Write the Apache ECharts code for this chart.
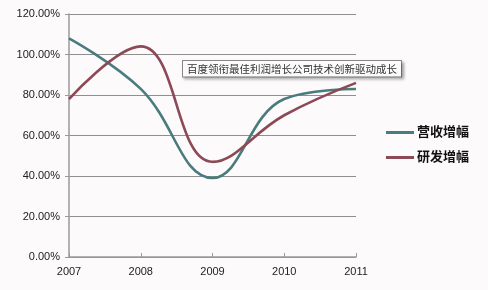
<!DOCTYPE html>
<html><head><meta charset="utf-8">
<script src="https://cdn.jsdelivr.net/npm/echarts@6/dist/echarts.min.js"></script>
<style>html,body{margin:0;padding:0;background:#fdfafc}#c{width:488px;height:290px}</style>
</head><body><div id="c"></div>
<script>
var categories = ['2007', '2008', '2009', '2010', '2011'];
var revenueGrowth = [108, 83, 39, 78, 83];
var rdGrowth = [78, 104, 47, 70, 86];
var seriesNames = ['营收增幅', '研发增幅'];
var yTicks = [0, 20, 40, 60, 80, 100, 120];
var annotation = '百度领衔最佳利润增长公司技术创新驱动成长';

var chart = echarts.init(document.getElementById('c'), null, {renderer: 'canvas'});
var font = '"Liberation Sans", Arial, "Noto Sans CJK SC", sans-serif';
chart.setOption({
  backgroundColor: '#fdfafc',
  animation: false,
  grid: {left: 69, right: 132, top: 14, bottom: 33},
  xAxis: {
    type: 'category', data: categories, boundaryGap: false,
    axisLine: {lineStyle: {color: '#9a9a9a', width: 1.5}},
    axisTick: {show: true, inside: true, length: 4, lineStyle: {color: '#9a9a9a'}},
    axisLabel: {color: '#222', fontSize: 11, fontFamily: font, margin: 9}
  },
  yAxis: {
    type: 'value', min: yTicks[0], max: yTicks[yTicks.length - 1], interval: 20,
    axisLine: {show: true, lineStyle: {color: '#9a9a9a', width: 1.5}},
    axisTick: {show: true, length: 4, lineStyle: {color: '#9a9a9a'}},
    splitLine: {lineStyle: {color: '#8f8f8f', width: 1}},
    axisLabel: {color: '#222', fontSize: 11, fontFamily: font, margin: 9,
      formatter: function (v) { return v.toFixed(2) + '%'; }}
  },
  legend: {
    orient: 'vertical', right: 14, top: 121, itemGap: 12,
    itemWidth: 28, itemHeight: 3,
    icon: 'rect',
    textStyle: {fontSize: 13, color: '#111', fontWeight: 'bold', fontFamily: font, padding: [0, 0, 0, -2]},
    data: seriesNames
  },
  series: [
    {name: seriesNames[0], type: 'line', data: revenueGrowth, smooth: 0.42, showSymbol: false,
     color: '#4a7b7d', lineStyle: {width: 2.6, color: '#4a7b7d'}},
    {name: seriesNames[1], type: 'line', data: rdGrowth, smooth: 0.42, showSymbol: false,
     color: '#8c4a56', lineStyle: {width: 2.6, color: '#8c4a56'}}
  ],
  graphic: [{
    type: 'text', left: 182, top: 60, z: 100,
    style: {
      text: annotation, font: '10.5px "Noto Sans CJK SC", sans-serif', fill: '#333',
      backgroundColor: '#fbfbfb', borderColor: '#8a8a8a', borderWidth: 1,
      padding: [3, 4, 2, 4],
      shadowColor: 'rgba(0,0,0,0.3)', shadowBlur: 3, shadowOffsetX: 2, shadowOffsetY: 2
    }
  }]
});
</script></body></html>
